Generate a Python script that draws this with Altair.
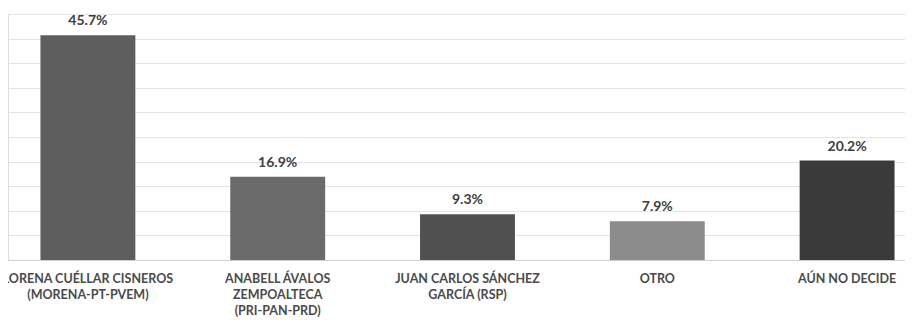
import altair as alt
import pandas as pd

categories = [
    "LORENA CUÉLLAR CISNEROS (MORENA-PT-PVEM)",
    "ANABELL ÁVALOS ZEMPOALTECA (PRI-PAN-PRD)",
    "JUAN CARLOS SÁNCHEZ GARCÍA (RSP)",
    "OTRO",
    "AÚN NO DECIDE",
]
label_lines = [
    ["LORENA CUÉLLAR CISNEROS", "(MORENA-PT-PVEM)"],
    ["ANABELL ÁVALOS", "ZEMPOALTECA", "(PRI-PAN-PRD)"],
    ["JUAN CARLOS SÁNCHEZ", "GARCÍA (RSP)"],
    ["OTRO"],
    ["AÚN NO DECIDE"],
]
values = [45.7, 16.9, 9.3, 7.9, 20.2]
bar_colors = ["#5e5e5e", "#6b6b6b", "#505050", "#8c8c8c", "#3a3a3a"]
grid_values = [0, 5, 10, 15, 20, 25, 30, 35, 40, 45, 50]

df = pd.DataFrame({
    "cat": categories,
    "value": values,
    "label": [f"{v:.1f}%" for v in values],
})

label_expr = "{" + ", ".join(
    f"{c!r}: {l!r}" for c, l in zip(categories, label_lines)
) + "}[datum.value]"

x = alt.X(
    "cat:N",
    sort=categories,
    scale=alt.Scale(range=[-15, 934], paddingInner=0.5, paddingOuter=0.25),
    axis=alt.Axis(
        title=None,
        labelAngle=0,
        labelExpr=label_expr,
        labelFont="Lato",
        labelFontSize=12.5,
        labelFontWeight="bold",
        labelColor="#4a4a4a",
        labelPadding=12,
        labelLineHeight=16,
        labelLimit=260,
        domainColor="#cfcfcf",
        ticks=False,
    ),
)

y = alt.Y(
    "value:Q",
    scale=alt.Scale(domain=[0, 50]),
    axis=alt.Axis(
        title=None,
        labels=False,
        ticks=False,
        domain=False,
        values=grid_values,
        gridColor="#e4e4e4",
        gridWidth=1,
    ),
)

base = alt.Chart(df).encode(x=x, y=y)

bars = base.mark_bar().encode(
    color=alt.Color("cat:N", sort=categories,
                    scale=alt.Scale(domain=categories, range=bar_colors),
                    legend=None),
)

text = base.mark_text(
    dy=-14, font="Lato", fontSize=14, fontWeight="bold", color="#404040"
).encode(text="label:N")

chart = (bars + text).properties(
    width=897,
    height=246,
    padding={"left": 0, "top": 6, "right": 0, "bottom": 58},
    autosize=alt.AutoSizeParams(type="none"),
).configure_view(stroke=None).configure(background="white")

chart.save("out.html", embed_options={"renderer": "svg", "actions": False})
